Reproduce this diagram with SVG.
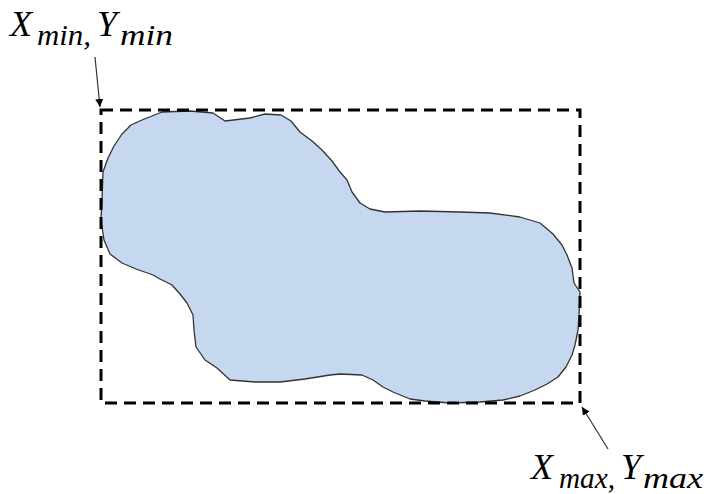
<svg xmlns="http://www.w3.org/2000/svg" width="711" height="494" viewBox="0 0 711 494">
  <style>
    .lbl { font-family: "Liberation Serif", "DejaVu Serif", serif; font-style: italic; fill: #000; }
    .big { font-size: 36px; }
    .sub { font-size: 30px; }
    .box { fill: none; stroke: #000; stroke-width: 3; stroke-dasharray: 12 7; }
    .blob { fill: #c5d8ef; stroke: #333; stroke-width: 1.3; stroke-linejoin: round; }
    .arrow { stroke: #333; stroke-width: 1.2; fill: none; marker-end: url(#ah); }
  </style>
  <defs>
    <marker id="ah" viewBox="0 0 10 10" refX="10" refY="5" markerWidth="8" markerHeight="8" markerUnits="userSpaceOnUse" orient="auto">
      <path d="M0,0 L10,5 L0,10 Z" fill="#000"/>
    </marker>
  </defs>
  <rect width="711" height="494" fill="#fff"/>
  <g id="blob">
    <path class="blob" d="M102,200 L103,172 L108,158 L114,146 L122,134 L131,125 L142,120 L152,116 L162,112 L190,111 L213,113 L225,121 L250,118 L265,114 L281,115 L291,121 L300,132 L312,141 L322,150 L332,161 L340,172 L347,180 L352,192 L360,203 L370,209 L385,212 L420,211 L460,212 L490,213 L520,217 L540,223 L553,234 L562,245 L567,255 L572,268 L574,283 L580,292 L579,315 L578,330 L575,345 L572,355 L566,367 L558,377 L547,384 L535,390 L520,396 L503,400 L480,402 L450,403 L425,401 L410,399 L393,392 L383,387 L373,380 L362,375 L340,374 L330,375 L305,379 L280,382 L255,382 L230,380 L217,368 L205,360 L196,347 L194,330 L193,315 L187,303 L180,294 L172,285 L160,279 L153,275 L136,269 L122,263 L110,254 L104,240 L101,220 Z"/>
  </g>
  <g id="bbox">
    <rect class="box" x="101" y="110" width="479" height="293"/>
  </g>
  <g id="label-min">
    <text class="lbl"><tspan class="big" x="10" y="36">X</tspan><tspan class="sub" x="37" y="45" textLength="54" lengthAdjust="spacingAndGlyphs">min,</tspan><tspan class="big" x="97" y="36">Y</tspan><tspan class="sub" x="120" y="45" textLength="53" lengthAdjust="spacingAndGlyphs">min</tspan></text>
  </g>
  <g id="label-max">
    <text class="lbl"><tspan class="big" x="531" y="479">X</tspan><tspan class="sub" x="559" y="488" textLength="56" lengthAdjust="spacingAndGlyphs">max,</tspan><tspan class="big" x="621" y="479">Y</tspan><tspan class="sub" x="643" y="488" textLength="60" lengthAdjust="spacingAndGlyphs">max</tspan></text>
  </g>
  <g id="connectors">
    <line class="arrow" x1="95" y1="57" x2="100" y2="107"/>
    <line class="arrow" x1="608" y1="449" x2="582" y2="407"/>
  </g>
</svg>
